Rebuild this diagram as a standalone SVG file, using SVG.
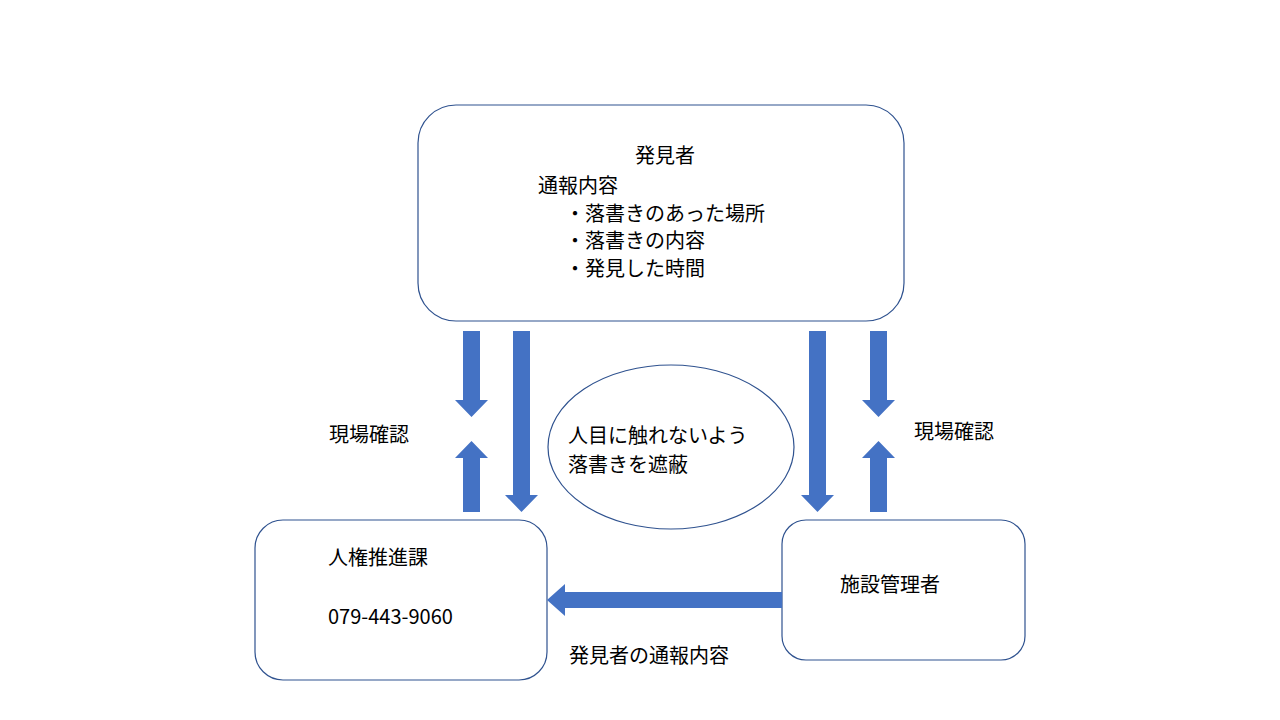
<svg xmlns="http://www.w3.org/2000/svg" width="1280" height="720" viewBox="0 0 1280 720">
<style>
.box{fill:#fff;stroke:#2f528f;stroke-width:1.2}
.t{font-family:"Noto Sans CJK JP","Noto Sans",sans-serif;font-size:20px;fill:#000}
.ar{fill:#4472c4}
</style>
<rect width="1280" height="720" fill="#fff"/>
<g id="hakkensha">
<rect class="box" x="418" y="105" width="486" height="216" rx="38"/>
<text class="t" x="635" y="163">発見者</text>
<text class="t" x="538" y="193">通報内容</text>
<text class="t" x="565" y="221">・落書きのあった場所</text>
<text class="t" x="565" y="248">・落書きの内容</text>
<text class="t" x="565" y="276">・発見した時間</text>
</g>
<g id="jinken">
<rect class="box" x="255" y="520" width="292" height="160" rx="28"/>
<text class="t" x="328" y="565">人権推進課</text>
<text class="t" x="328" y="624">079-443-9060</text>
</g>
<g id="shisetsu">
<rect class="box" x="782" y="520" width="243" height="140" rx="24"/>
<text class="t" x="840" y="592">施設管理者</text>
</g>
<g id="shahei">
<ellipse class="box" cx="671" cy="447" rx="123" ry="82"/>
<text class="t" x="568" y="443">人目に触れないよう</text>
<text class="t" x="568" y="472">落書きを遮蔽</text>
</g>
<g id="connectors">
<polygon class="ar" points="463,331 480,331 480,400 488,400 471.5,417 455,400 463,400"/>
<polygon class="ar" points="463,512 480,512 480,458 488,458 471.5,441 455,458 463,458"/>
<polygon class="ar" points="513,331 530,331 530,495 538,495 521.5,512 505,495 513,495"/>
<polygon class="ar" points="809,331 826,331 826,495 834,495 817.5,512 801,495 809,495"/>
<polygon class="ar" points="870,331 887,331 887,400 895,400 878.5,417 862,400 870,400"/>
<polygon class="ar" points="870,512 887,512 887,458 895,458 878.5,441 862,458 870,458"/>
<polygon class="ar" points="782,592 565,592 565,584 547,600 565,616 565,608 782,608"/>
</g>
<text class="t" x="329" y="442">現場確認</text>
<text class="t" x="914" y="439">現場確認</text>
<text class="t" x="569" y="663">発見者の通報内容</text>
</svg>
